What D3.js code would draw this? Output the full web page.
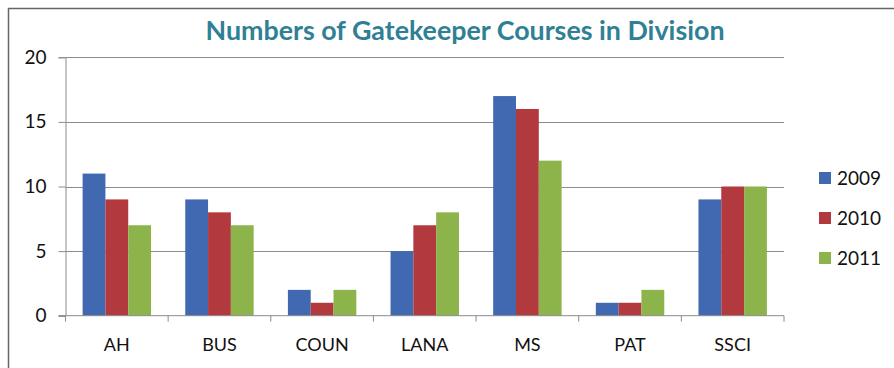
<!DOCTYPE html>
<html>
<head>
<meta charset="utf-8">
<script src="https://cdn.jsdelivr.net/npm/d3@7"></script>
<style>
  html, body { margin: 0; padding: 0; background: #fff; }
  svg { display: block; font-family: Lato, "Open Sans", sans-serif; }
</style>
</head>
<body>
<svg id="chart" width="894" height="368"></svg>
<script>
// Gatekeeper course counts per division, by year
const divisions = ["AH", "BUS", "COUN", "LANA", "MS", "PAT", "SSCI"];
const years = ["2009", "2010", "2011"];
const counts2009 = [11, 9, 2, 5, 17, 1, 9];
const counts2010 = [9, 8, 1, 7, 16, 1, 10];
const counts2011 = [7, 7, 2, 8, 12, 2, 10];
const yTicks = [0, 5, 10, 15, 20];
const colors = ["#4069B1", "#B23A3F", "#8DB44B"];

const seriesValues = [counts2009, counts2010, counts2011];
const rows = divisions.map((d, i) => ({
  division: d,
  values: years.map((y, s) => ({ year: y, value: seriesValues[s][i], color: colors[s] }))
}));

const svg = d3.select("#chart");

// outer frame (top and left edges)
svg.append("path")
  .attr("d", "M8.5,368 V8.5 H894")
  .attr("fill", "none")
  .attr("stroke", "#666")
  .attr("stroke-width", 1.5);

const plot = { left: 65.5, right: 784, top: 57.3, bottom: 315.7 };

const x0 = d3.scaleBand().domain(divisions).range([plot.left, plot.right]).padding(0);
const bw = x0.bandwidth();
const x1 = d3.scaleBand().domain(years).range([bw / 6, bw * 5 / 6]).padding(0);
const y = d3.scaleLinear().domain([0, 20]).range([plot.bottom, plot.top]);

// horizontal gridlines
svg.append("g")
  .selectAll("line")
  .data(yTicks.filter(t => t > 0))
  .join("line")
  .attr("x1", plot.left).attr("x2", plot.right)
  .attr("y1", d => Math.round(y(d)) + 0.5).attr("y2", d => Math.round(y(d)) + 0.5)
  .attr("stroke", "#8c8c8c").attr("stroke-width", 1);

// bars
const groups = svg.append("g")
  .selectAll("g")
  .data(rows)
  .join("g")
  .attr("transform", d => `translate(${x0(d.division)},0)`);

groups.selectAll("rect")
  .data(d => d.values)
  .join("rect")
  .attr("x", d => x1(d.year))
  .attr("width", x1.bandwidth())
  .attr("y", d => y(d.value))
  .attr("height", d => y(0) - y(d.value))
  .attr("fill", d => d.color);

// y axis
const yAxis = d3.axisLeft(y).tickValues(yTicks).tickSize(7).tickPadding(12);
const gy = svg.append("g")
  .attr("transform", `translate(${plot.left},0)`)
  .call(yAxis);
gy.select(".domain").attr("stroke", "#8c8c8c");
gy.selectAll(".tick line").attr("stroke", "#8c8c8c");
gy.selectAll(".tick text")
  .attr("fill", "#111")
  .style("font-size", "19px")
  .style("font-family", "Lato, 'Open Sans', sans-serif");

// x axis: ticks between categories
const boundaries = divisions.map(d => x0(d)).concat([plot.right]);
const gx = svg.append("g");
gx.append("line")
  .attr("x1", plot.left - 7).attr("x2", plot.right)
  .attr("y1", plot.bottom).attr("y2", plot.bottom)
  .attr("stroke", "#8c8c8c");
gx.selectAll("line.tk")
  .data(boundaries)
  .join("line")
  .attr("class", "tk")
  .attr("x1", d => d).attr("x2", d => d)
  .attr("y1", plot.bottom).attr("y2", plot.bottom + 6)
  .attr("stroke", "#8c8c8c");
gx.selectAll("text")
  .data(divisions)
  .join("text")
  .attr("x", d => x0(d) + bw / 2)
  .attr("y", 351)
  .attr("text-anchor", "middle")
  .attr("fill", "#111")
  .style("font-size", "18px")
  .text(d => d);

// title
svg.append("text")
  .attr("x", 465)
  .attr("y", 39.5)
  .attr("text-anchor", "middle")
  .attr("fill", "#2F8094")
  .style("font-size", "26px")
  .style("font-weight", "bold")
  .attr("textLength", 519)
  .attr("lengthAdjust", "spacingAndGlyphs")
  .text("Numbers of Gatekeeper Courses in Division");

// legend
const legend = svg.append("g")
  .selectAll("g")
  .data(years)
  .join("g")
  .attr("transform", (d, i) => `translate(819,${172 + i * 40})`);
legend.append("rect")
  .attr("width", 12).attr("height", 12)
  .attr("fill", (d, i) => colors[i]);
legend.append("text")
  .attr("x", 18).attr("y", 13)
  .attr("fill", "#111")
  .style("font-size", "19px")
  .text(d => d);
</script>
</body>
</html>
